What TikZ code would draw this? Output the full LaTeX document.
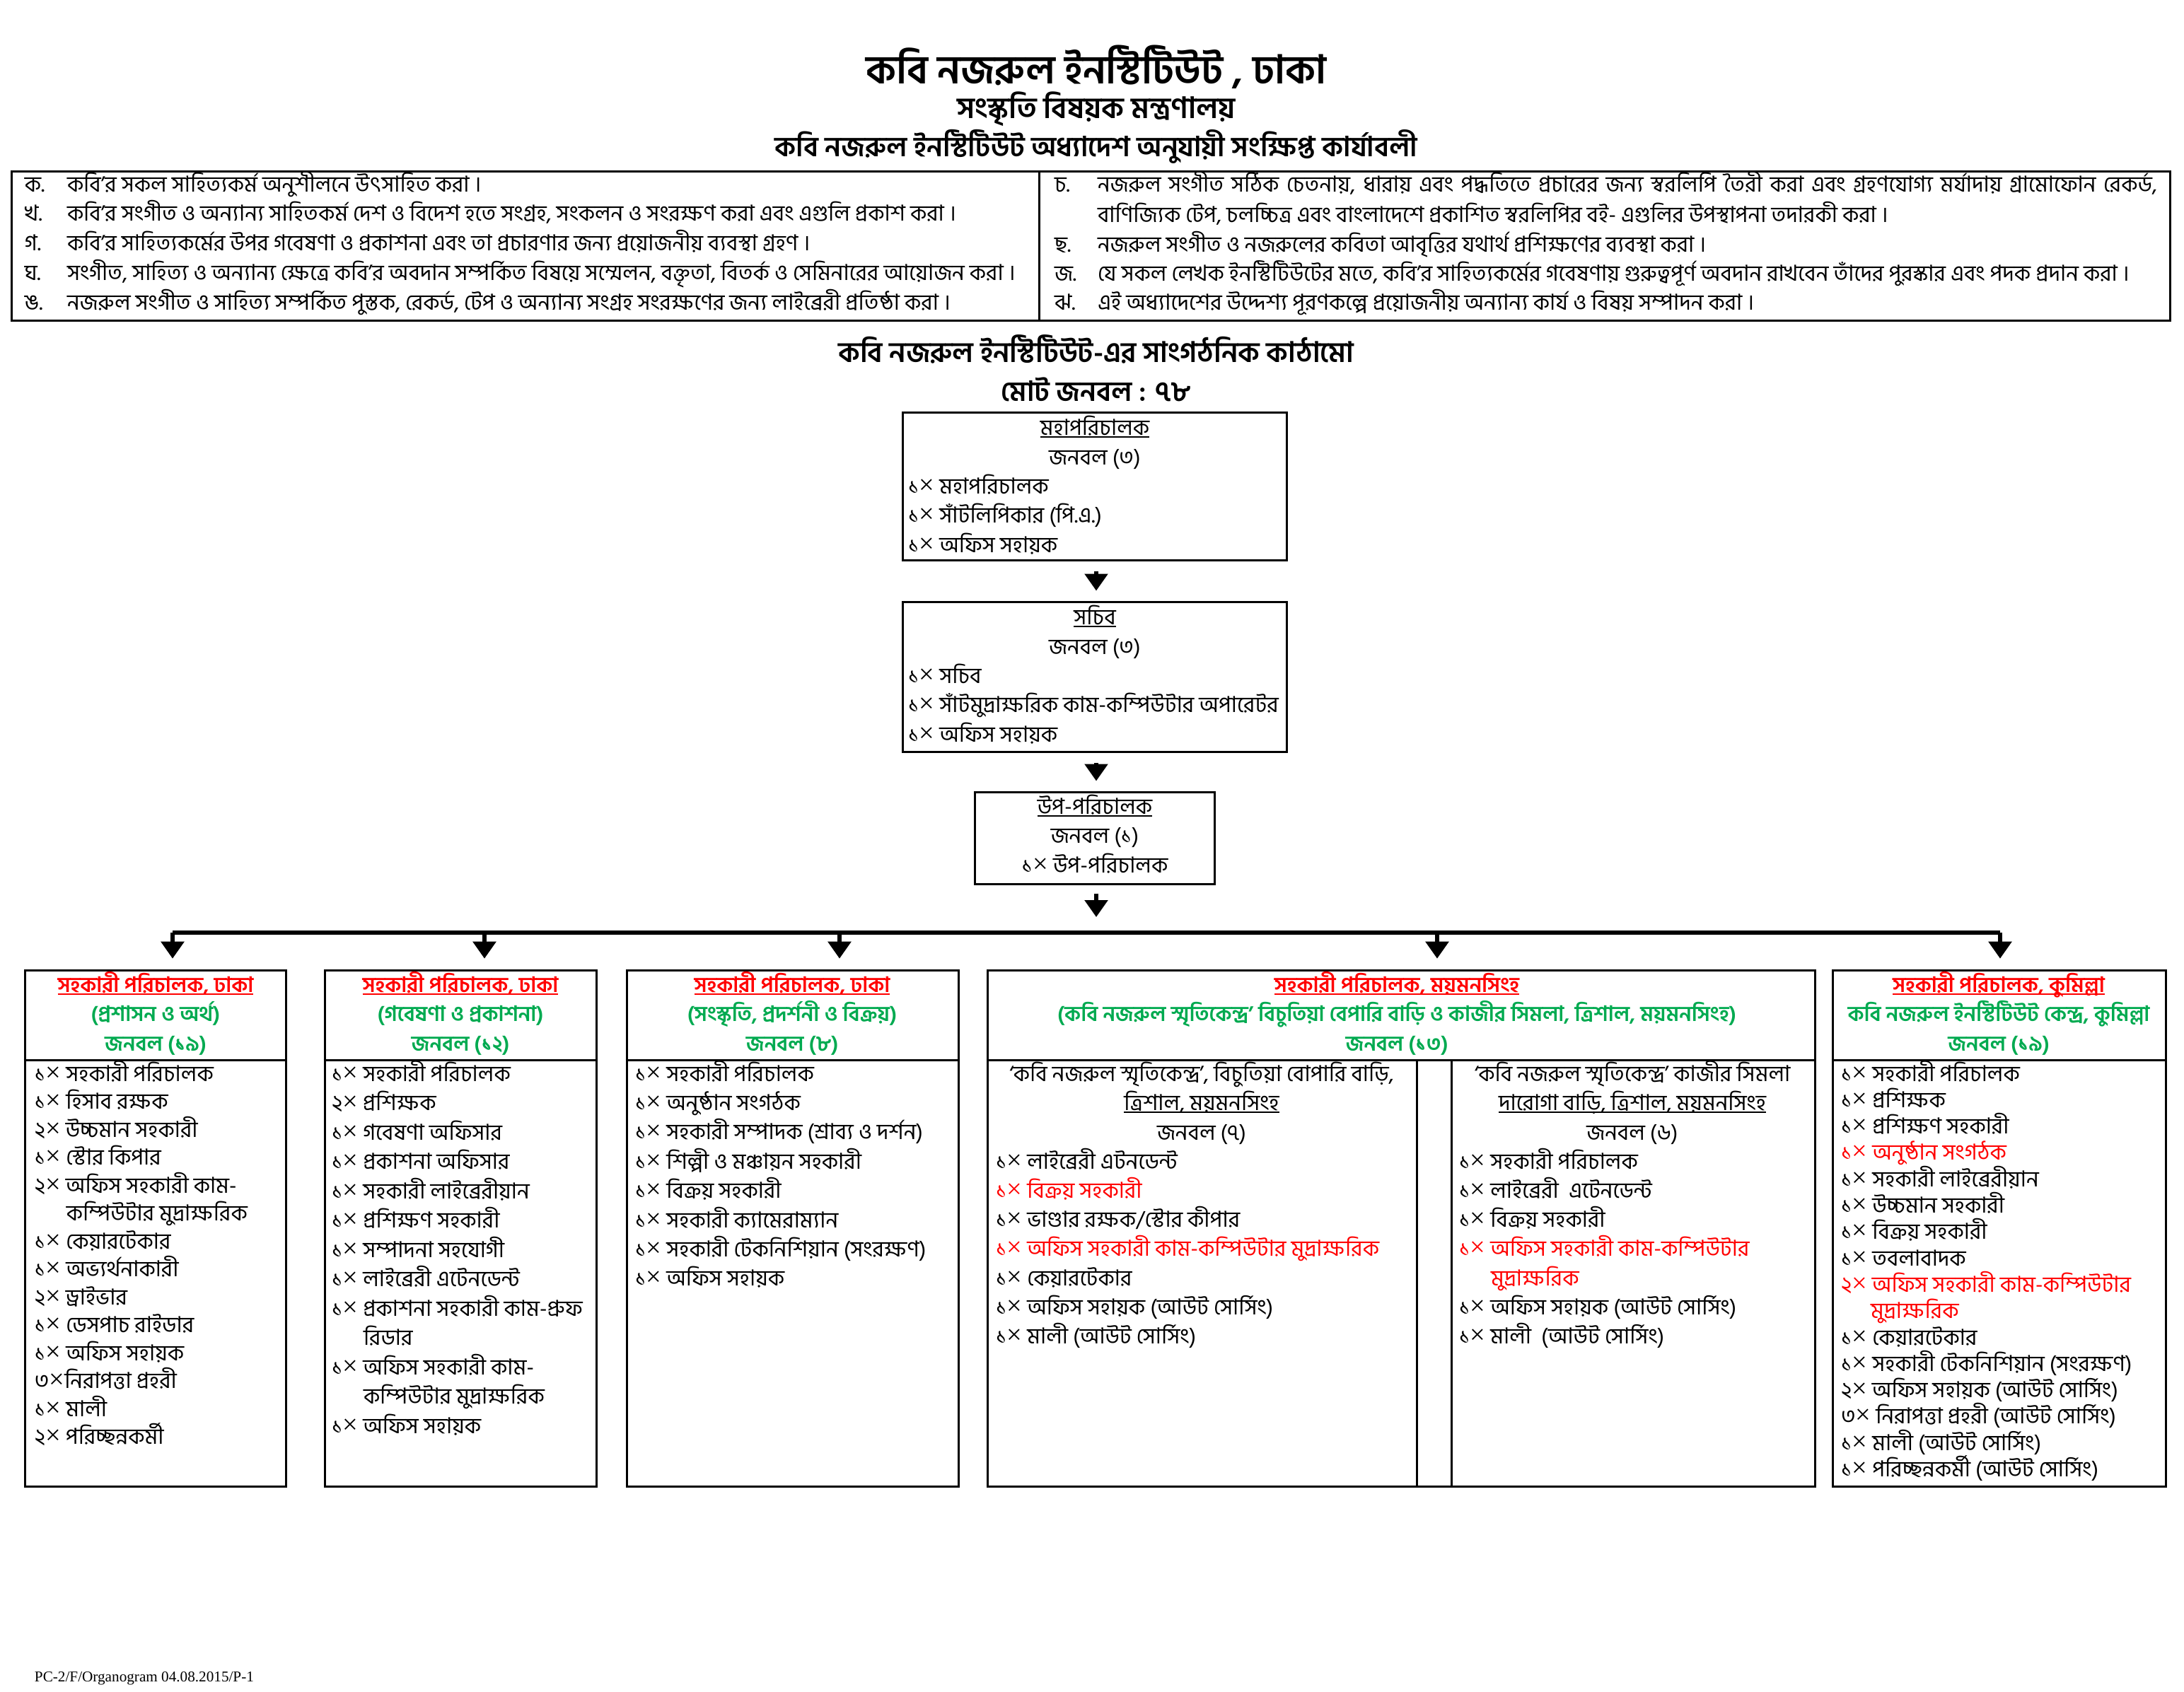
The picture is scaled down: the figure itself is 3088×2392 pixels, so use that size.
\documentclass[tikz,border=0pt]{standalone}
\usepackage{fontspec}
\usetikzlibrary{arrows.meta,fit}
\setmainfont{Hind Siliguri}[Script=Bengali]
\newfontfamily\footfont{Liberation Serif}
\definecolor{bnred}{RGB}{255,0,0}
\definecolor{bngreen}{RGB}{0,170,80}
\newcommand\fsz[1]{\fontsize{#1}{#1}\selectfont}
\newcommand\X{{\footfont\fontsize{9.6}{9.6}\selectfont\symbol{"00D7}}}
\newcommand\ulx[1]{\setbox0\hbox{#1}\rlap{\rule[-0.14em]{\wd0}{0.07em}}\box0}
\tikzset{
  boxst/.style={draw, line width=0.75pt, inner sep=0pt},
  thinln/.style={line width=0.75pt},
  tx/.style={inner sep=0pt, outer sep=0pt, font=\fsz{7.8}},
  tl/.style={tx, anchor=base west},
  tc/.style={tx, anchor=base},
  arr/.style={line width=1.4pt, -{Triangle[width=8pt,length=6pt]}},
  busline/.style={line width=1.6pt},
  hred/.style={tc, text=bnred, font=\fsz{7.5}\bfseries},
  hgreen/.style={tc, text=bngreen, font=\fsz{7.5}\bfseries},
}
\begin{document}
\begin{tikzpicture}[x=0.25pt,y=-0.25pt]
\fill[white] (0,0) rectangle (3088,2392);
\useasboundingbox (0,0) rectangle (3088,2392);

% ---------- titles
\node[tc, font=\bfseries\fsz{14}] (t1) at (1550,118) {কবি নজরুল ইনস্টিটিউট , ঢাকা};
\node[tc, font=\bfseries\fsz{10.4}] (t2) at (1550,167) {সংস্কৃতি বিষয়ক মন্ত্রণালয়};
\node[tc, font=\bfseries\fsz{9.8}] (t3) at (1550,221) {কবি নজরুল ইনস্টিটিউট অধ্যাদেশ অনুযায়ী সংক্ষিপ্ত কার্যাবলী};

% ---------- functions box
\node[boxst, fit={(16,242) (3068,453)}] (fbox) {};
\coordinate (fdiv) at (1469,242);
\draw[thinln] (fdiv) -- (fdiv |- fbox.south);

\foreach \l/\s [count=\i] in {ক./{কবি’র সকল সাহিত্যকর্ম অনুশীলনে উৎসাহিত করা ।},
  খ./{কবি’র সংগীত ও অন্যান্য সাহিতকর্ম দেশ ও বিদেশ হতে সংগ্রহ, সংকলন ও সংরক্ষণ করা এবং এগুলি প্রকাশ করা ।},
  গ./{কবি’র সাহিত্যকর্মের উপর গবেষণা ও প্রকাশনা এবং তা প্রচারণার জন্য প্রয়োজনীয় ব্যবস্থা গ্রহণ ।},
  ঘ./{সংগীত, সাহিত্য ও অন্যান্য ক্ষেত্রে কবি’র অবদান সম্পর্কিত বিষয়ে সম্মেলন, বক্তৃতা, বিতর্ক ও সেমিনারের আয়োজন করা ।},
  ঙ./{নজরুল সংগীত ও সাহিত্য সম্পর্কিত পুস্তক, রেকর্ড, টেপ ও অন্যান্য সংগ্রহ সংরক্ষণের জন্য লাইব্রেরী প্রতিষ্ঠা করা ।}}
{
  \node[tl] (fl\i) at (35,{271+(\i-1)*41.8}) {\l};
  \node[tl] (ft\i) at (95,{271+(\i-1)*41.8}) {\s};
}
\node[tl] (fr1) at (1491,271) {চ.};
\node[tl] (frt1) at (1552,271) {\makebox[374.5pt][s]{নজরুল সংগীত সঠিক চেতনায়, ধারায় এবং পদ্ধতিতে প্রচারের জন্য স্বরলিপি তৈরী করা এবং গ্রহণযোগ্য মর্যাদায় গ্রামোফোন রেকর্ড,}};
\node[tl] (frt2) at (1552,314) {বাণিজ্যিক টেপ, চলচ্চিত্র এবং বাংলাদেশে প্রকাশিত স্বরলিপির বই- এগুলির উপস্থাপনা তদারকী করা ।};
\node[tl] (fr3) at (1491,356) {ছ.};
\node[tl] (frt3) at (1552,356) {নজরুল সংগীত ও নজরুলের কবিতা আবৃত্তির যথার্থ প্রশিক্ষণের ব্যবস্থা করা ।};
\node[tl] (fr4) at (1491,397) {জ.};
\node[tl] (frt4) at (1552,397) {যে সকল লেখক ইনস্টিটিউটের মতে, কবি’র সাহিত্যকর্মের গবেষণায় গুরুত্বপূর্ণ অবদান রাখবেন তাঁদের পুরস্কার এবং পদক প্রদান করা ।};
\node[tl] (fr5) at (1491,438) {ঝ.};
\node[tl] (frt5) at (1552,438) {এই অধ্যাদেশের উদ্দেশ্য পূরণকল্পে প্রয়োজনীয় অন্যান্য কার্য ও বিষয় সম্পাদন করা ।};

% ---------- structure title
\node[tc, font=\bfseries\fsz{10}] (st) at (1550,512) {কবি নজরুল ইনস্টিটিউট-এর সাংগঠনিক কাঠামো};
\node[tc, font=\bfseries\fsz{9.8}] (tot) at (1550,567) {মোট জনবল : ৭৮};

% ---------- top chain
\node[boxst, fit={(1276,583) (1819,792)}] (dg) {};
\node[tc] (dg0) at (1548,615) {\ulx{মহাপরিচালক}};
\node[tc] (dg1) at (1548,657) {জনবল (৩)};
\node[tl] (dg2) at (1284,698) {১\X\ মহাপরিচালক};
\node[tl] (dg3) at (1284,739) {১\X\ সাঁটলিপিকার (পি.এ.)};
\node[tl] (dg4) at (1284,781) {১\X\ অফিস সহায়ক};

\node[boxst, fit={(1276,851) (1819,1063)}] (sec) {};
\node[tc] (sec0) at (1548,883) {\ulx{সচিব}};
\node[tc] (sec1) at (1548,925) {জনবল (৩)};
\node[tl] (sec2) at (1284,966) {১\X\ সচিব};
\node[tl] (sec3) at (1284,1007) {১\X\ সাঁটমুদ্রাক্ষরিক কাম-কম্পিউটার অপারেটর};
\node[tl] (sec4) at (1284,1049) {১\X\ অফিস সহায়ক};

\node[boxst, fit={(1378,1120) (1717,1250)}] (dd) {};
\node[tc] (dd0) at (1548,1151) {\ulx{উপ-পরিচালক}};
\node[tc] (dd1) at (1548,1192) {জনবল (১)};
\node[tc] (dd2) at (1548,1234) {১\X\ উপ-পরিচালক};

\coordinate (ax) at (1550,0);
\draw[arr, shorten <=3.7pt, shorten >=3.5pt] (ax |- dg.south) -- (ax |- sec.north);
\draw[arr, shorten <=3.7pt, shorten >=3.5pt] (ax |- sec.south) -- (ax |- dd.north);

% ---------- bus
\coordinate (bl) at (244,1319);
\coordinate (br) at (2828,1319);
\draw[busline] (bl) -- (br);
\draw[arr, shorten <=3pt, shorten >=5.5pt] (ax |- dd.south) -- (ax |- bl);

% ---------- bottom boxes
\node[boxst, fit={(35,1372) (404,2102)}] (B1) {};
\node[boxst, fit={(459,1372) (843,2102)}] (B2) {};
\node[boxst, fit={(886,1372) (1355,2102)}] (B3) {};
\node[boxst, fit={(1396,1372) (2566,2102)}] (B4) {};
\node[boxst, fit={(2591,1372) (3062,2102)}] (B5) {};
\coordinate (hdiv) at (0,1499);
\foreach \b in {B1,B2,B3,B4,B5}
  \draw[thinln] (\b.west |- hdiv) -- (\b.east |- hdiv);
\coordinate (v1) at (2003,0);
\coordinate (v2) at (2052,0);
\draw[thinln] (v1 |- hdiv) -- (v1 |- B4.south);
\draw[thinln] (v2 |- hdiv) -- (v2 |- B4.south);

\coordinate (d1) at (244,1319);
\coordinate (d2) at (685,1319);
\coordinate (d3) at (1187,1319);
\coordinate (d4) at (2032,1319);
\coordinate (d5) at (2828,1319);
\draw[arr, shorten >=3.7pt] (d1) -- (d1 |- B1.north);
\draw[arr, shorten >=3.7pt] (d2) -- (d2 |- B2.north);
\draw[arr, shorten >=3.7pt] (d3) -- (d3 |- B3.north);
\draw[arr, shorten >=3.7pt] (d4) -- (d4 |- B4.north);
\draw[arr, shorten >=3.7pt] (d5) -- (d5 |- B5.north);

% headers
\node[hred] (h1a) at (220,1403) {\ulx{সহকারী পরিচালক, ঢাকা}};
\node[hgreen] (h1b) at (220,1444) {(প্রশাসন ও অর্থ)};
\node[hgreen] (h1c) at (220,1486) {জনবল (১৯)};
\node[hred] (h2a) at (651,1403) {\ulx{সহকারী পরিচালক, ঢাকা}};
\node[hgreen] (h2b) at (651,1444) {(গবেষণা ও প্রকাশনা)};
\node[hgreen] (h2c) at (651,1486) {জনবল (১২)};
\node[hred] (h3a) at (1120,1403) {\ulx{সহকারী পরিচালক, ঢাকা}};
\node[hgreen] (h3b) at (1120,1444) {(সংস্কৃতি, প্রদর্শনী ও বিক্রয়)};
\node[hgreen] (h3c) at (1120,1486) {জনবল (৮)};
\node[hred] (h4a) at (1975,1403) {\ulx{সহকারী পরিচালক, ময়মনসিংহ}};
\node[hgreen] (h4b) at (1975,1444) {(কবি নজরুল স্মৃতিকেন্দ্র’ বিচুতিয়া বেপারি বাড়ি ও কাজীর সিমলা, ত্রিশাল, ময়মনসিংহ)};
\node[hgreen] (h4c) at (1975,1486) {জনবল (১৩)};
\node[hred] (h5a) at (2826,1403) {\ulx{সহকারী পরিচালক, কুমিল্লা}};
\node[hgreen] (h5b) at (2826,1444) {কবি নজরুল ইনস্টিটিউট কেন্দ্র, কুমিল্লা};
\node[hgreen] (h5c) at (2826,1486) {জনবল (১৯)};

% B1 items
\foreach \s [count=\i] in {১\X\ সহকারী পরিচালক, ১\X\ হিসাব রক্ষক, ২\X\ উচ্চমান সহকারী, ১\X\ স্টোর কিপার,
  ২\X\ অফিস সহকারী কাম-, {\hspace*{11.25pt}কম্পিউটার মুদ্রাক্ষরিক}, ১\X\ কেয়ারটেকার, ১\X\ অভ্যর্থনাকারী,
  ২\X\ ড্রাইভার, ১\X\ ডেসপাচ রাইডার, ১\X\ অফিস সহায়ক, ৩\X নিরাপত্তা প্রহরী, ১\X\ মালী, ২\X\ পরিচ্ছন্নকর্মী}
  \node[tl] (b1i\i) at (49,{1529+(\i-1)*39.5}) {\s};

% B2 items
\foreach \s [count=\i] in {১\X\ সহকারী পরিচালক, ২\X\ প্রশিক্ষক, ১\X\ গবেষণা অফিসার, ১\X\ প্রকাশনা অফিসার,
  ১\X\ সহকারী লাইব্রেরীয়ান, ১\X\ প্রশিক্ষণ সহকারী, ১\X\ সম্পাদনা সহযোগী, ১\X\ লাইব্রেরী এটেনডেন্ট,
  ১\X\ প্রকাশনা সহকারী কাম-প্রুফ, {\hspace*{11.25pt}রিডার}, ১\X\ অফিস সহকারী কাম-,
  {\hspace*{11.25pt}কম্পিউটার মুদ্রাক্ষরিক}, ১\X\ অফিস সহায়ক}
  \node[tl] (b2i\i) at (469,{1529+(\i-1)*41.5}) {\s};

% B3 items
\foreach \s [count=\i] in {১\X\ সহকারী পরিচালক, ১\X\ অনুষ্ঠান সংগঠক, ১\X\ সহকারী সম্পাদক (শ্রাব্য ও দর্শন),
  ১\X\ শিল্পী ও মঞ্চায়ন সহকারী, ১\X\ বিক্রয় সহকারী, ১\X\ সহকারী ক্যামেরাম্যান,
  ১\X\ সহকারী টেকনিশিয়ান (সংরক্ষণ), ১\X\ অফিস সহায়ক}
  \node[tl] (b3i\i) at (898,{1529+(\i-1)*41.4}) {\s};

% B4 left
\node[tc] (b4la) at (1699,1529) {‘কবি নজরুল স্মৃতিকেন্দ্র’, বিচুতিয়া বোপারি বাড়ি,};
\node[tc] (b4lb) at (1699,1570) {\ulx{ত্রিশাল, ময়মনসিংহ}};
\node[tc] (b4lc) at (1699,1612) {জনবল (৭)};
\foreach \s [count=\i] in {১\X\ লাইব্রেরী এটনডেন্ট, {\color{bnred}১\X\ বিক্রয় সহকারী},
  ১\X\ ভাণ্ডার রক্ষক/স্টোর কীপার, {\color{bnred}১\X\ অফিস সহকারী কাম-কম্পিউটার মুদ্রাক্ষরিক},
  ১\X\ কেয়ারটেকার, ১\X\ অফিস সহায়ক (আউট সোর্সিং), ১\X\ মালী (আউট সোর্সিং)}
  \node[tl] (b4l\i) at (1408,{1653+(\i-1)*41.3}) {\s};

% B4 right
\node[tc] (b4ra) at (2308,1529) {‘কবি নজরুল স্মৃতিকেন্দ্র’ কাজীর সিমলা};
\node[tc] (b4rb) at (2308,1570) {\ulx{দারোগা বাড়ি, ত্রিশাল, ময়মনসিংহ}};
\node[tc] (b4rc) at (2308,1612) {জনবল (৬)};
\foreach \s [count=\i] in {১\X\ সহকারী পরিচালক, ১\X\ লাইব্রেরী\ \ এটেনডেন্ট, ১\X\ বিক্রয় সহকারী,
  {\color{bnred}১\X\ অফিস সহকারী কাম-কম্পিউটার}, {\color{bnred}\hspace*{11.25pt}মুদ্রাক্ষরিক},
  ১\X\ অফিস সহায়ক (আউট সোর্সিং), ১\X\ মালী\ \ (আউট সোর্সিং)}
  \node[tl] (b4r\i) at (2063,{1653+(\i-1)*41.3}) {\s};

% B5 items
\foreach \s [count=\i] in {১\X\ সহকারী পরিচালক, ১\X\ প্রশিক্ষক, ১\X\ প্রশিক্ষণ সহকারী,
  {\color{bnred}১\X\ অনুষ্ঠান সংগঠক}, ১\X\ সহকারী লাইব্রেরীয়ান, ১\X\ উচ্চমান সহকারী, ১\X\ বিক্রয় সহকারী,
  ১\X\ তবলাবাদক, {\color{bnred}২\X\ অফিস সহকারী কাম-কম্পিউটার}, {\color{bnred}\hspace*{10.5pt}মুদ্রাক্ষরিক},
  ১\X\ কেয়ারটেকার, ১\X\ সহকারী টেকনিশিয়ান (সংরক্ষণ), ২\X\ অফিস সহায়ক (আউট সোর্সিং),
  ৩\X\ নিরাপত্তা প্রহরী (আউট সোর্সিং), ১\X\ মালী (আউট সোর্সিং), ১\X\ পরিচ্ছন্নকর্মী (আউট সোর্সিং)}
  \node[tl] (b5i\i) at (2603,{1529+(\i-1)*37.3}) {\s};

% footer
\node[tl, font=\footfont\fsz{5.3}] (foot) at (49,2378) {PC-2/F/Organogram 04.08.2015/P-1};
\end{tikzpicture}
\end{document}
